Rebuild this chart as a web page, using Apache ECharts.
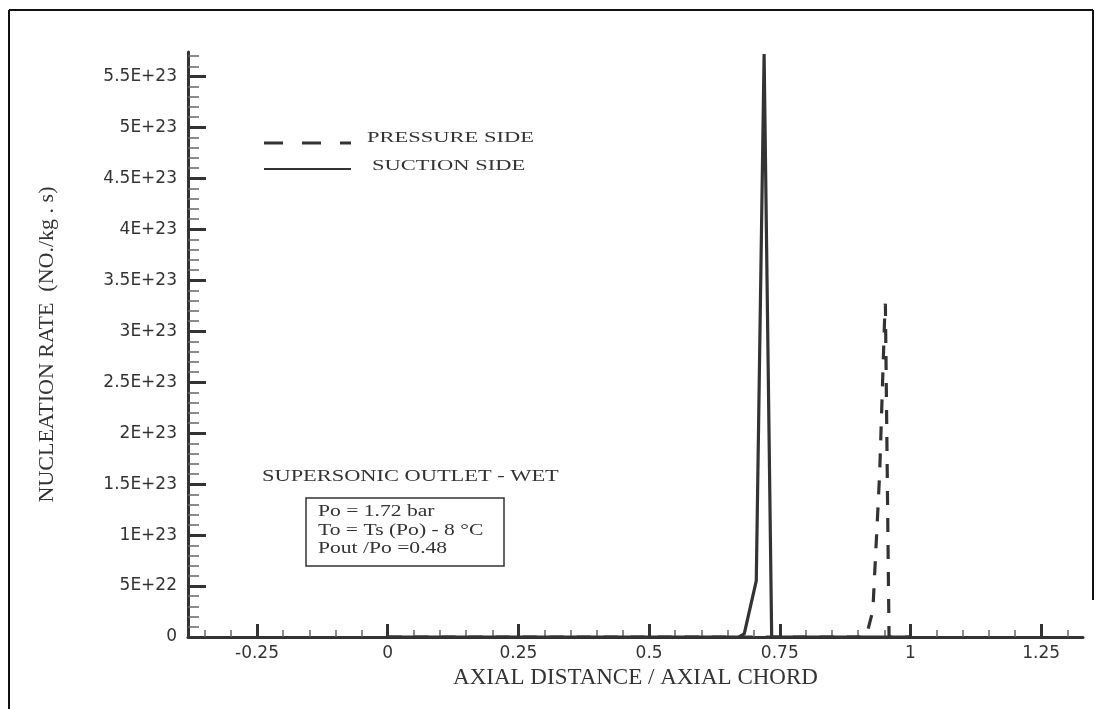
<!DOCTYPE html>
<html lang="en">
  <head>
    <meta charset="UTF-8" />
    <title>Nucleation rate</title>
    <script src="https://cdn.jsdelivr.net/npm/echarts@6.0.0/dist/echarts.min.js"></script>
    <style>
      body { margin: 0; background: #fff; }
    </style>
  </head>
  <body>
    <div id="main" style="width: 1104px; height: 709px"></div>
    <script type="text/javascript">
      // values
      const suctionX = [0, 0.3, 0.6, 0.672, 0.682, 0.705, 0.72, 0.7345, 0.8, 1.0];
      const suctionY = [0, 0, 0, 0, 3e21, 5.5e22, 5.72e23, 0, 0, 0];

      const pressureX = [0, 0.4, 0.8, 0.905, 0.912, 0.918, 0.928, 0.941, 0.951, 0.952, 0.959, 1.0];
      const pressureY = [0, 0, 0, 0, 0, 6e21, 2.6e22, 1.6e23, 3.2e23, 3.27e23, 0, 0];

      const xTicks = [-0.25, 0, 0.25, 0.5, 0.75, 1, 1.25];
      const xTickLabels = ["-0.25", "0", "0.25", "0.5", "0.75", "1", "1.25"];
      const yTicks = [0, 5e22, 1e23, 1.5e23, 2e23, 2.5e23, 3e23, 3.5e23, 4e23, 4.5e23, 5e23, 5.5e23];
      const yTickLabels = ["0", "5E+22", "1E+23", "1.5E+23", "2E+23", "2.5E+23", "3E+23",
        "3.5E+23", "4E+23", "4.5E+23", "5E+23", "5.5E+23"];

      const xMin = -0.382, xMax = 1.33;
      const yMin = 0, yMax = 5.74e23;

      // minor tick positions
      const xMinor = [];
      for (let i = -7; i <= 26; i++) {
        if (i % 5 !== 0) xMinor.push(Math.round(i * 5) / 100);
      }
      const yMinor = [];
      for (let i = 1; i <= 57; i++) {
        if (i % 5 !== 0) yMinor.push(i * 1e22);
      }

      const zip = (xs, ys) => xs.map((x, i) => [x, ys[i]]);
      const pickLabel = (ticks, labels) => (v) => {
        const i = ticks.findIndex((t) => Math.abs(t - v) <= Math.abs(t) * 1e-6 + 1e-9);
        return i < 0 ? "" : labels[i];
      };

      const ink = "#333";
      const tickFont = { fontFamily: "DejaVu Sans", fontSize: 17, color: ink };
      const serif = "Liberation Serif";

      let options = {
        animation: false,
        backgroundColor: "#fff",
        grid: { left: 188, right: 21, top: 52, bottom: 72, containLabel: false, outerBoundsMode: "none" },
        xAxis: [
          {
            type: "value",
            position: "bottom",
            min: xMin,
            max: xMax,
            name: "AXIAL DISTANCE / AXIAL CHORD",
            nameLocation: "middle",
            nameGap: 27,
            nameTextStyle: { fontFamily: serif, fontSize: 23, color: ink },
            axisLine: { onZero: false, lineStyle: { color: ink, width: 3 } },
            axisTick: { inside: true, length: 13, customValues: xTicks, lineStyle: { color: ink, width: 3 } },
            axisLabel: Object.assign({ customValues: xTicks, margin: 8, formatter: pickLabel(xTicks, xTickLabels) }, tickFont),
            splitLine: { show: false },
          },
          {
            type: "value",
            position: "bottom",
            min: xMin,
            max: xMax,
            axisLine: { show: false, onZero: false },
            axisTick: { inside: true, length: 7, customValues: xMinor, lineStyle: { color: "#666", width: 1.5 } },
            axisLabel: { show: false },
            splitLine: { show: false },
          },
        ],
        yAxis: [
          {
            type: "value",
            position: "left",
            min: yMin,
            max: yMax,
            name: "NUCLEATION RATE  (NO./kg . s)",
            nameLocation: "middle",
            nameGap: 130,
            nameTextStyle: { fontFamily: serif, fontSize: 22, color: ink },
            axisLine: { onZero: false, lineStyle: { color: ink, width: 3 } },
            axisTick: { inside: true, length: 18, customValues: yTicks, lineStyle: { color: ink, width: 3 } },
            axisLabel: Object.assign({ customValues: yTicks, margin: 11, formatter: pickLabel(yTicks, yTickLabels) }, tickFont),
            splitLine: { show: false },
          },
          {
            type: "value",
            position: "left",
            min: yMin,
            max: yMax,
            axisLine: { show: false, onZero: false },
            axisTick: { inside: true, length: 11, customValues: yMinor, lineStyle: { color: "#666", width: 1.5 } },
            axisLabel: { show: false },
            splitLine: { show: false },
          },
        ],
        series: [
          {
            name: "PRESSURE SIDE",
            type: "line",
            xAxisIndex: 0,
            yAxisIndex: 0,
            showSymbol: false,
            data: zip(pressureX, pressureY),
            lineStyle: { color: ink, width: 3.2, type: [14, 13] },
          },
          {
            name: "SUCTION SIDE",
            type: "line",
            xAxisIndex: 0,
            yAxisIndex: 0,
            showSymbol: false,
            data: zip(suctionX, suctionY),
            lineStyle: { color: ink, width: 3.2 },
          },
        ],
        graphic: [
          // frame
          { type: "line", shape: { x1: 9, y1: 10, x2: 1093, y2: 10 }, style: { stroke: "#111", lineWidth: 2 } },
          { type: "line", shape: { x1: 9, y1: 10, x2: 9, y2: 709 }, style: { stroke: "#111", lineWidth: 2 } },
          { type: "line", shape: { x1: 1093, y1: 10, x2: 1093, y2: 600 }, style: { stroke: "#111", lineWidth: 2 } },
          // legend
          { type: "line", shape: { x1: 264, y1: 143, x2: 351, y2: 143 }, style: { stroke: ink, lineWidth: 3, lineDash: [19, 19] } },
          { type: "line", shape: { x1: 264, y1: 169, x2: 351, y2: 169 }, style: { stroke: ink, lineWidth: 2.2 } },
          { type: "text", x: 367, y: 138, scaleX: 1.5, style: { text: "PRESSURE SIDE", font: "15px " + serif, fill: ink, align: "left", verticalAlign: "middle" } },
          { type: "text", x: 372, y: 166, scaleX: 1.5, style: { text: "SUCTION SIDE", font: "15px " + serif, fill: ink, align: "left", verticalAlign: "middle" } },
          // case notes
          { type: "text", x: 262, y: 477, scaleX: 1.4, style: { text: "SUPERSONIC OUTLET - WET", font: "16px " + serif, fill: ink, align: "left", verticalAlign: "middle" } },
          { type: "rect", shape: { x: 306, y: 498, width: 198, height: 68 }, style: { fill: "none", stroke: ink, lineWidth: 1.5 } },
          { type: "text", x: 318, y: 512, scaleX: 1.27, style: { text: "Po = 1.72 bar", font: "17px " + serif, fill: ink, align: "left", verticalAlign: "middle" } },
          { type: "text", x: 318, y: 531, scaleX: 1.27, style: { text: "To = Ts (Po) - 8 \u00B0C", font: "17px " + serif, fill: ink, align: "left", verticalAlign: "middle" } },
          { type: "text", x: 318, y: 549, scaleX: 1.27, style: { text: "Pout /Po =0.48", font: "17px " + serif, fill: ink, align: "left", verticalAlign: "middle" } },
        ],
      };

      let myChart = echarts.init(document.getElementById("main"));
      myChart.setOption(options);
    </script>
  </body>
</html>
